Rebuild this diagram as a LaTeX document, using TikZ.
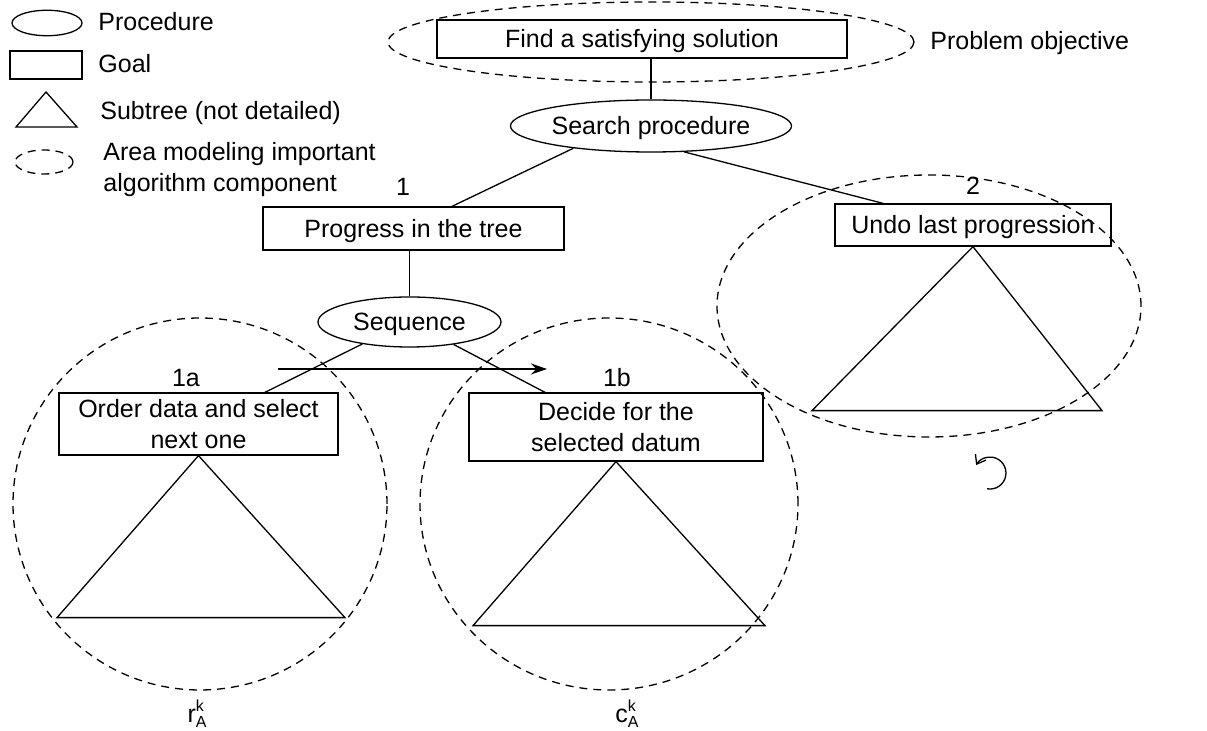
\documentclass[tikz,border=0pt]{standalone}
\usepackage{fontspec}
\setmainfont{Liberation Sans}
\usetikzlibrary{shapes.geometric,arrows.meta,calc}
\newcommand{\subsupAk}{\rlap{\raisebox{5.5pt}{\fontsize{8}{8}\selectfont k}}\raisebox{-2.5pt}{\fontsize{8}{8}\selectfont A}}
\begin{document}
\begin{tikzpicture}[x=0.5pt,y=-0.5pt,
  every node/.style={font=\fontsize{12.5}{15.5}\selectfont},
  goalbox/.style={draw, rectangle, inner sep=0pt, line width=0.65pt, align=center},
  goal/.style={goalbox, text height=9pt, text depth=0pt},
  proc/.style={draw, ellipse, inner sep=0pt, line width=0.65pt, text height=9pt, text depth=0pt},
  area/.style={draw, ellipse, dash pattern=on 4pt off 3pt, inner sep=0pt, line width=0.65pt},
  conn/.style={line width=0.65pt},
  lbl/.style={inner sep=0pt}]
\useasboundingbox (0,0) rectangle (1207,731);

% legend
\node[proc, minimum width=35pt, minimum height=10pt] (lgproc) at (47,23) {};
\node[lbl, anchor=west] (lgproct) at (98,22) {Procedure};
\node[goal, minimum width=36pt, minimum height=14pt] (lggoal) at (46,65) {};
\node[lbl, anchor=west] (lggoalt) at (98,64) {Goal};
\draw[conn] (46,92) -- (16,127) -- (77,127) -- cycle;
\node[lbl, anchor=west] (lgtrit) at (100,113) {Subtree (not detailed)};
\node[area, minimum width=29pt, minimum height=12pt] (lgarea) at (44,162) {};
\node[lbl, anchor=west, align=left] (lgareat) at (103,170) {Area modeling important\\algorithm component};

% top
\node[goal, minimum width=205pt, minimum height=19pt] (obj) at (642,39) {Find a satisfying solution};
\node[area, minimum width=263pt, minimum height=40pt] (objarea) at (651,42) {};
\node[lbl, anchor=west] (objlbl) at (930,43) {Problem objective};
\node[proc, minimum width=108pt, minimum height=26pt] (search) at (651,126) {Search procedure};

% level 1
\node[goal, minimum width=150.5pt, minimum height=21.5pt] (prog) at (413.5,228.5) {Progress in the tree};
\node[goal, minimum width=138pt, minimum height=21pt] (undo) at (973,225) {Undo last progression};
\node[area, minimum width=212pt, minimum height=131pt] (undoarea) at (929,306) {};
\node[lbl] (n1) at (403,187) {1};
\node[lbl] (n2) at (973,186) {2};

% level 2
\node[proc, minimum width=91.5pt, minimum height=25pt] (seq) at (409.5,322) {Sequence};
\node[goalbox, minimum width=139.5pt, minimum height=31pt] (order) at (198.5,424) {Order data and select\\next one};
\node[goalbox, minimum width=147pt, minimum height=34pt] (decide) at (616,427) {Decide for the\\selected datum};
\node[area, minimum width=187pt, minimum height=186pt] (orderarea) at (200,504) {};
\node[area, minimum width=189pt, minimum height=186pt] (decidearea) at (609,504) {};
\node[lbl] (n1a) at (186,378) {1a};
\node[lbl] (n1b) at (617,378) {1b};
\node[lbl] (rk) at (197,714) {r\subsupAk};
\node[lbl] (ck) at (627,714) {c\subsupAk};

% connectors
\draw[conn] (search.north) -- (search.north |- obj.south);
\draw[conn] (search.196) -- ($(prog.north)+(38.5,0)$);
\draw[conn] (search.322) -- ($(undo.north)+(-90,0)$);
\draw[conn] (seq.north) -- (seq.north |- prog.south);
\draw[conn] (seq.205) -- ($(order.north)+(66.5,0)$);
\draw[conn] (seq.333) -- ($(decide.north)+(-71,0)$);

% sequence arrow
\coordinate (arrS) at (278,369);
\coordinate (arrE) at (547,369);
\draw[conn, -{Stealth[length=8pt,width=5.5pt]}] (arrS) -- (arrE);

% subtrees
\draw[conn] (order.south) -- ++(-141.5,162) -- ++(288,0) -- cycle;
\draw[conn] (decide.south) -- ++(-143,164) -- ++(292,0) -- cycle;
\draw[conn] (undo.south) -- ++(-161,164) -- ++(290,0) -- cycle;

% undo symbol
\coordinate (undoc) at (990,473);
\draw[conn, -{Straight Barb[length=4pt,width=6pt]}] ($(undoc)+(-2.8,15.8)$) arc[start angle=100, end angle=-150, radius=16];
\end{tikzpicture}
\end{document}
